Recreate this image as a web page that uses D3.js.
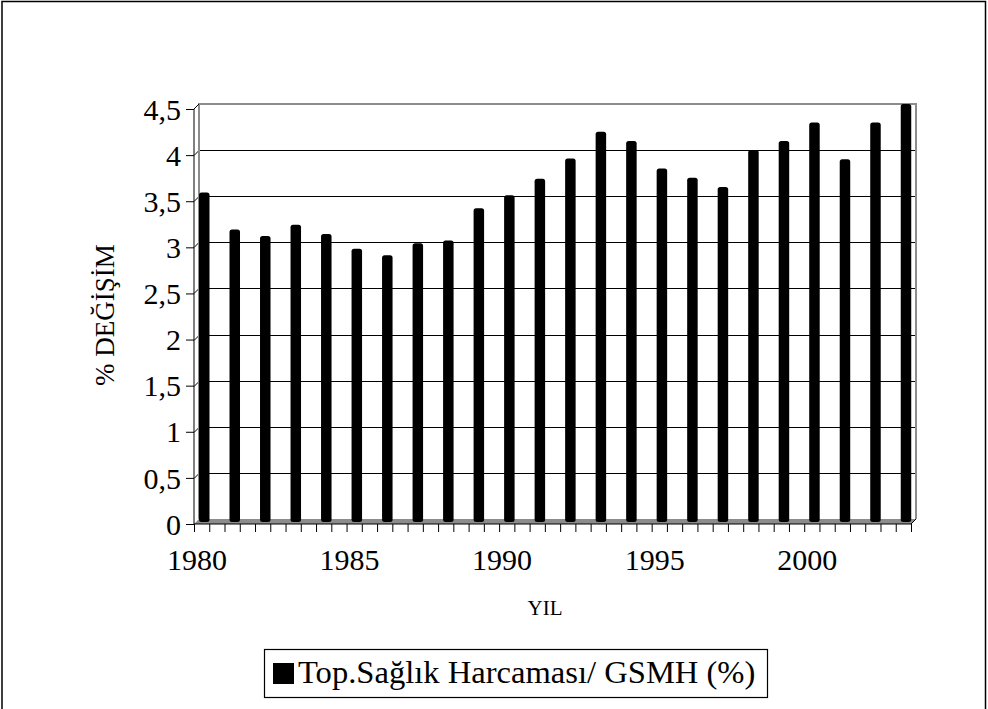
<!DOCTYPE html>
<html><head><meta charset="utf-8">
<script src="https://cdn.jsdelivr.net/npm/d3@7/dist/d3.min.js"></script>
<style>body{margin:0;background:#fff}svg{display:block}text{font-family:"Liberation Serif","Times New Roman",serif;fill:#000}</style>
</head><body>
<script>
const years = d3.range(1980, 2004);
const values = [3.54, 3.14, 3.07, 3.19, 3.09, 2.93, 2.86, 2.99, 3.02, 3.37, 3.51, 3.69, 3.91, 4.20, 4.10, 3.80, 3.70, 3.60, 4.00, 4.10, 4.30, 3.90, 4.30, 4.50];
const yTicks = [0, 0.5, 1, 1.5, 2, 2.5, 3, 3.5, 4, 4.5];
const xLabels = [1980, 1985, 1990, 1995, 2000];
const seriesName = "Top.Sağlık Harcaması/ GSMH (%)";
const yTitle = "% DEĞİŞİM";
const xTitle = "YIL";

const W = 988, H = 709;
const svg = d3.select("body").append("svg").attr("width", W).attr("height", H);

const dx = 5, dy = 5;
const x = d3.scaleLinear().domain([1980, 2003.5]).range([194, 911]);
const y = d3.scaleLinear().domain([0, 4.5]).range([519, 104]);
const fmt = v => String(v).replace(".", ",");
const cy = v => Math.round(y(v)) + 0.5;

// outer border
svg.append("rect").attr("x", 2).attr("y", 1.5).attr("width", 983.5).attr("height", 720)
  .attr("fill", "none").attr("stroke", "#000").attr("stroke-width", 1.5);

// floor
const x0 = x(1980), x1 = x(2003.5);
svg.append("polygon")
  .attr("points", [[x0, y(0) + dy], [x0 + dx, y(0)], [x1 + dx, y(0)], [x1, y(0) + dy]].map(p => p.join(",")).join(" "))
  .attr("fill", "#8c8c8c");

// gridlines on back wall
const grid = svg.append("g");
yTicks.filter(v => v > 0 && v < 4.5).forEach(v => {
  grid.append("line").attr("x1", x0 + dx).attr("x2", x1 + dx).attr("y1", cy(v)).attr("y2", cy(v))
    .attr("stroke", "#000").attr("stroke-width", 1);
  grid.append("line").attr("x1", x0).attr("x2", x0 + dx).attr("y1", cy(v) + dy).attr("y2", cy(v))
    .attr("stroke", "#000").attr("stroke-width", 1);
});

// wall edges (gray)
svg.append("path").attr("d", `M${x0 + dx},${y(0)}V${y(4.5)}H${x1 + dx}V${y(0)}`)
  .attr("stroke", "#8c8c8c").attr("stroke-width", 2).attr("fill", "none");

// bars
svg.append("g").selectAll("rect").data(years).join("rect")
  .attr("x", d => x(d) + 5)
  .attr("width", 10.5)
  .attr("y", (d, i) => y(values[i]))
  .attr("height", (d, i) => y(0) + 3 - y(values[i]))
  .attr("rx", 2.5)
  .attr("fill", "#000");

// front Y axis
const yAxisG = svg.append("g").attr("transform", `translate(${x0},${dy})`);
yAxisG.call(d3.axisLeft(y).tickValues(yTicks).tickFormat(fmt).tickSize(8).tickPadding(5));
yAxisG.select(".domain").remove();
yAxisG.selectAll(".tick line").attr("stroke", "#000");
yAxisG.selectAll(".tick text").attr("font-size", 30).attr("font-family", "Liberation Serif").attr("dy", "0.34em");
svg.append("path").attr("d", `M${x0 + dx},${y(4.5)}L${x0},${y(4.5) + dy}V${y(0) + dy}`)
  .attr("stroke", "#000").attr("fill", "none");

// front X axis
const xAxisG = svg.append("g").attr("transform", `translate(0,${y(0) + dy})`);
xAxisG.call(d3.axisBottom(x).tickValues(d3.range(1980, 2004, 0.5)).tickFormat("").tickSize(8));
xAxisG.select(".domain").remove();
xAxisG.selectAll(".tick line").attr("stroke", "#000");
svg.append("path").attr("d", `M${x0},${y(0) + dy}H${x1}L${x1 + dx},${y(0)}`)
  .attr("stroke", "#000").attr("fill", "none");
svg.append("g").selectAll("text").data(xLabels).join("text")
  .attr("x", d => x(d) + 3).attr("y", 570)
  .attr("text-anchor", "middle").attr("font-size", 30).text(d => d);

// titles
svg.append("text").attr("transform", "translate(114,315) rotate(-90)")
  .attr("text-anchor", "middle").attr("font-size", 27).text(yTitle);
svg.append("text").attr("x", 545).attr("y", 615)
  .attr("text-anchor", "middle").attr("font-size", 21).text(xTitle);

// legend
const lg = svg.append("g");
lg.append("rect").attr("x", 264.5).attr("y", 649.5).attr("width", 503).attr("height", 48)
  .attr("fill", "#fff").attr("stroke", "#000").attr("stroke-width", 1.2);
lg.append("rect").attr("x", 273).attr("y", 663).attr("width", 21).attr("height", 21).attr("fill", "#000");
lg.append("text").attr("x", 298).attr("y", 683).attr("font-size", 32.6).text(seriesName);
</script>
</body></html>
